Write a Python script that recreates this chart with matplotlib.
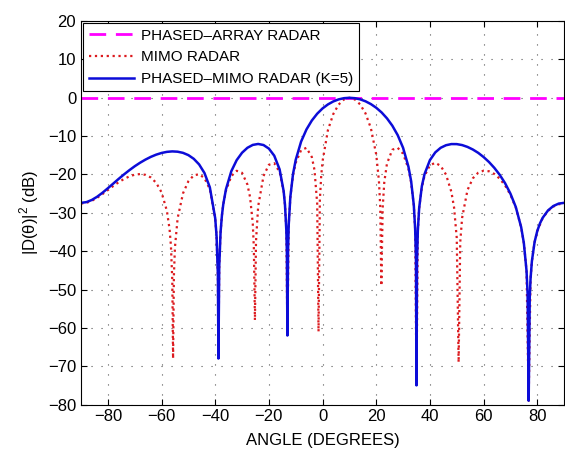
import matplotlib

matplotlib.use("Agg")
import matplotlib.pyplot as plt

plt.rcParams["font.family"] = ["Liberation Sans", "DejaVu Sans"]
plt.rcParams["mathtext.fontset"] = "custom"
plt.rcParams["mathtext.rm"] = "Liberation Sans"

# phased-array radar: flat 0 dB
phased_deg = [-90, 90]
phased_db = [0, 0]

# phased-MIMO radar (K=5)
mixed_deg = [-90, -88, -86, -84, -82, -80, -78, -76, -74, -72, -70, -68, -66, -64, -62,
             -60, -58, -56, -54, -52, -50, -48, -46, -44, -42, -40, -39.5, -39, -38.8,
             -38.5, -38, -37.5, -37, -36, -34, -32, -30, -28, -26, -24, -22, -20, -18,
             -16, -14.5, -14, -13.5, -13.3, -13.1, -12.85, -12.6, -12, -11, -10, -8,
             -6, -4, -2, 0, 2, 4, 6, 8, 10, 12, 14, 16, 18, 20, 22, 24, 26, 28, 30, 32,
             33, 34, 34.5, 34.8, 35, 35.2, 35.5, 36, 37, 38, 40, 42, 44, 46, 48, 50,
             52, 54, 56, 58, 60, 62, 64, 66, 68, 70, 72, 74, 75, 76, 76.4, 76.8, 77.2,
             77.5, 78, 79, 80, 81, 82, 84, 86, 88, 90]
mixed_db = [-27.40, -27.21, -26.65, -25.81, -24.76, -23.59, -22.38, -21.16, -19.99,
            -18.89, -17.86, -16.94, -16.12, -15.41, -14.83, -14.39, -14.10, -13.98,
            -14.06, -14.36, -14.95, -15.91, -17.37, -19.62, -23.35, -31.42, -35.93,
            -46.21, -68.0, -43.93, -35.02, -30.68, -27.79, -23.86, -19.15, -16.26,
            -14.33, -13.04, -12.29, -12.04, -12.32, -13.25, -15.10, -18.68, -24.33,
            -27.92, -34.57, -40.17, -62.0, -39.46, -33.02, -25.82, -19.85, -16.19,
            -11.43, -8.26, -5.93, -4.15, -2.77, -1.73, -0.95, -0.41, -0.10, 0.0,
            -0.10, -0.40, -0.91, -1.64, -2.60, -3.82, -5.36, -7.28, -9.74, -13.04,
            -17.96, -21.72, -28.00, -34.14, -42.04, -75.0, -42.62, -34.64, -28.73,
            -23.04, -19.89, -16.26, -14.24, -13.04, -12.37, -12.07, -12.08, -12.33,
            -12.81, -13.49, -14.36, -15.45, -16.74, -18.27, -20.08, -22.26, -24.99,
            -28.48, -33.73, -37.86, -45.11, -51.06, -79.0, -52.14, -47.19, -42.60,
            -37.63, -34.75, -32.77, -31.32, -29.38, -28.22, -27.59, -27.40]

# MIMO radar
mimo_deg = [-90, -88, -86, -84, -82, -80, -78, -76, -74, -72, -70, -68, -66, -64, -62,
            -60, -58, -57, -56.5, -56, -55.7, -55.4, -55, -54, -52, -50, -48, -46, -44,
            -42, -40, -39.5, -39, -38.8, -38.5, -38, -37.5, -37, -36, -34, -32, -30,
            -28, -27, -26, -25.6, -25.2, -24.8, -24, -22, -20, -18, -16, -14.5, -14,
            -13.5, -13.1, -12.6, -12, -11, -10, -8, -6, -4, -3, -2, -1.5, -1, -0.5, 0,
            2, 4, 6, 8, 10, 12, 14, 16, 18, 20, 21, 21.5, 21.9, 22.4, 23, 24, 26, 28,
            30, 32, 33, 34, 34.5, 35, 35.5, 36, 37, 38, 40, 42, 44, 46, 48, 49, 50,
            50.7, 51.3, 52, 54, 56, 58, 60, 62, 64, 66, 68, 70, 72, 74, 75, 76, 76.8,
            77.5, 78, 79, 80, 82, 84, 86, 88, 90]
mimo_db = [-27.59, -27.40, -26.87, -26.08, -25.11, -24.06, -23.01, -22.03, -21.18,
           -20.50, -20.05, -19.89, -20.09, -20.78, -22.16, -24.65, -29.50, -34.30,
           -38.56, -47.47, -68.0, -46.49, -38.96, -31.40, -24.92, -21.77, -20.23,
           -19.93, -20.94, -23.85, -31.49, -36.0, -46.3, -68.0, -44.0, -35.05, -30.7,
           -27.8, -24.27, -20.42, -19.04, -19.57, -22.61, -25.95, -32.80, -39.12,
           -58.0, -37.41, -28.33, -20.39, -17.46, -17.07, -19.35, -24.4, -27.99,
           -34.6, -62.0, -33.1, -25.91, -20.2, -16.96, -13.65, -13.05, -15.45,
           -18.85, -27.62, -61.0, -26.54, -20.30, -16.53, -8.42, -4.23, -1.76,
           -0.42, 0.0, -0.42, -1.72, -4.06, -7.90, -14.80, -21.59, -28.5, -49.0,
           -28.78, -21.99, -17.15, -13.54, -13.05, -14.58, -18.48, -22.1, -28.06,
           -34.2, -75.0, -34.7, -28.78, -23.3, -20.37, -17.61, -16.95, -17.75,
           -20.03, -24.54, -28.62, -36.56, -69.0, -37.67, -31.30, -24.07, -21.00,
           -19.54, -19.01, -19.16, -19.86, -21.09, -22.85, -25.30, -28.62, -33.77,
           -37.9, -45.10, -79.0, -47.2, -42.60, -37.7, -34.78, -31.40, -29.49,
           -28.37, -27.77, -27.59]

x_ticks = list(range(-80, 81, 20))
y_ticks = list(range(-80, 21, 10))

fig = plt.figure(figsize=(5.65, 4.49), dpi=100)
ax = fig.add_axes([0.1434, 0.099, 0.855, 0.854])

ax.plot(phased_deg, phased_db, color="#ff00ff", linestyle=(0, (6, 3.5)), linewidth=2,
        label="PHASED\u2013ARRAY RADAR")
ax.plot(mimo_deg, mimo_db, color="#dc1a1e", linestyle=":", linewidth=1.6,
        label="MIMO RADAR")
ax.plot(mixed_deg, mixed_db, color="#0c0cd8", linewidth=1.8,
        label="PHASED\u2013MIMO RADAR (K=5)")

ax.set_xlim(-90, 90)
ax.set_ylim(-80, 20)
ax.set_xticks(x_ticks)
ax.set_yticks(y_ticks)
ax.tick_params(direction="in", top=True, right=True, labelsize=12, length=4)
ax.grid(True, linestyle=(0, (1, 8)), color="#555555", linewidth=0.8)
ax.set_xlabel("ANGLE (DEGREES)", fontsize=12, labelpad=6)
ax.set_ylabel(r"|D(θ)|$^2$ (dB)", fontsize=12, labelpad=5)

leg = ax.legend(loc="upper left", fontsize=11, handlelength=3.0, handletextpad=0.45,
                fancybox=False, framealpha=1, edgecolor="black",
                borderaxespad=0.15, borderpad=0.35, labelspacing=0.5)
leg.get_frame().set_linewidth(0.8)

fig.savefig("out.png", dpi=100)
